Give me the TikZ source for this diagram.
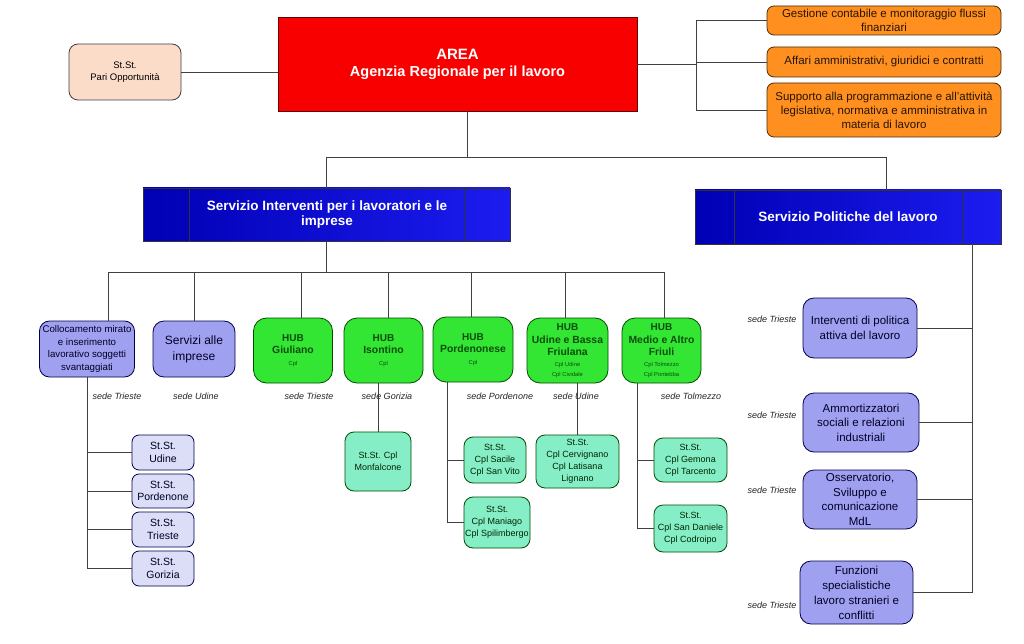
\documentclass[tikz,border=0pt]{standalone}
\usepackage{fontspec}
\setmainfont{Liberation Sans}
\definecolor{cred}{HTML}{F80000}
\definecolor{corange}{HTML}{FF8F1F}
\definecolor{cpeach}{HTML}{FBDCC9}
\definecolor{cblueL}{HTML}{0000B4}
\definecolor{cblueR}{HTML}{1C1CF0}
\definecolor{clav}{HTML}{A0A0F0}
\definecolor{clavlight}{HTML}{DCDEF8}
\definecolor{cgreen}{HTML}{33E633}
\definecolor{cmint}{HTML}{86EEC6}
\definecolor{cline}{HTML}{404040}
\definecolor{cgtext}{HTML}{0B4D0B}
\newcommand\cplf{\mdseries\fontsize{5.8}{5.6}\selectfont}
\newcommand\hubbig{\fontsize{10.4}{12.8}\selectfont}
\begin{document}
\begin{tikzpicture}[x=1pt,y=-1pt,
  conn/.style={draw=cline, line width=0.9pt},
  basebox/.style={draw=black!75, line width=0.8pt, inner sep=0pt, align=center},
  obox/.style={basebox, fill=corange, rounded corners=7pt, draw=black!70!corange, text=black!85!corange, font=\fontsize{11.5}{14}\selectfont},
  pbox/.style={basebox, fill=cpeach, rounded corners=9pt, font=\fontsize{9.5}{12.5}\selectfont},
  bbox/.style={basebox, left color=cblueL, right color=cblueR, draw=black!80, rounded corners=0pt},
  btext/.style={text=white, align=center, font=\bfseries\fontsize{13.5}{15.5}\selectfont},
  lbox/.style={basebox, fill=clav, rounded corners=11pt, draw=black!70!blue, text=black!85!blue, font=\fontsize{11.5}{14.5}\selectfont},
  sbox/.style={basebox, fill=clavlight, rounded corners=7pt, draw=black!70!blue, text=black!85!blue, font=\fontsize{10.5}{12.5}\selectfont},
  hbox/.style={basebox, fill=cgreen, rounded corners=13pt, draw=black!70!green, text=cgtext, font=\bfseries\fontsize{10}{12.8}\selectfont},
  mbox/.style={basebox, fill=cmint, rounded corners=9pt, draw=black!70!green, text=black!85!green, font=\fontsize{9}{12}\selectfont},
  sede/.style={inner sep=0pt, font=\itshape\fontsize{9}{10}\selectfont, text=black!85}
]
\useasboundingbox (0,0) rectangle (1024,644);
\fill[white] (0,0) rectangle (1024,644);

% top level
\node[basebox, fill=cred, draw=black!60!red, minimum width=359pt, minimum height=94pt, text=white, font=\bfseries\fontsize{14.5}{17}\selectfont] (area) at (457.5,64) {{\fontsize{15}{17}\selectfont AREA}\\Agenzia Regionale per il lavoro};
\node[pbox, minimum width=112pt, minimum height=56pt] (pari) at (125,72) {St.St.\\Pari Opportunità};

\node[obox, minimum width=234pt, minimum height=29pt] (g1) at (884,20.5) {Gestione contabile e monitoraggio flussi\\finanziari};
\node[obox, minimum width=234pt, minimum height=30pt] (g2) at (884,62) {Affari amministrativi, giuridici e contratti};
\node[obox, minimum width=234pt, minimum height=54pt] (g3) at (884,110) {Supporto alla programmazione e all'attività\\legislativa, normativa e amministrativa in\\materia di lavoro};

\draw[conn] (pari.east) -- (pari.east -| area.west);
\coordinate (rj) at (696,64);
\draw[conn] (area.east) -- (rj);
\draw[conn] (g1.west) -| (rj);
\draw[conn] (g3.west) -| (rj);
\draw[conn] (g2.west) -- (g2.west -| rj);

% services
\node[bbox, minimum width=367pt, minimum height=53pt] (sint) at (326.5,214.5) {};
\node[bbox, minimum width=306pt, minimum height=54pt] (spol) at (848,217) {};
\draw[black!80, line width=0.7pt] (189,188) -- (189,241) (465,188) -- (465,241);
\draw[black!80, line width=0.7pt] (734,190) -- (734,244) (963,190) -- (963,244);
\node[btext] (sinttxt) at (327,214.5) {Servizio Interventi per i lavoratori e le\\imprese};
\node[btext] (spoltxt) at (848,217) {Servizio Politiche del lavoro};

\coordinate (j1) at (467,157);
\coordinate (spolin) at (886,190);
\draw[conn] (area.south -| j1) -- (j1);
\draw[conn] (sint.north) |- (j1);
\draw[conn] (j1) -| (spolin);

% second level nodes
\node[lbox, minimum width=95pt, minimum height=56pt, rounded corners=10pt, font=\fontsize{9.7}{12.6}\selectfont] (coll) at (87,349) {Collocamento mirato\\e inserimento\\lavorativo soggetti\\svantaggiati};
\node[lbox, minimum width=82pt, minimum height=56pt, font=\fontsize{12}{16}\selectfont] (serv) at (194,349) {Servizi alle\\imprese};
\node[hbox, minimum width=79pt, minimum height=65pt] (hgiu) at (293,350.5) {HUB\\{\hubbig Giuliano}\\[-1pt]{\cplf Cpl}};
\node[hbox, minimum width=79pt, minimum height=65pt] (hiso) at (383.5,350.5) {HUB\\{\hubbig Isontino}\\[-1pt]{\cplf Cpl}};
\node[hbox, minimum width=80pt, minimum height=65pt] (hpor) at (473,349.5) {HUB\\{\hubbig Pordenonese}\\[-1pt]{\cplf Cpl}};
\node[hbox, minimum width=81pt, minimum height=65pt] (hudi) at (567.5,350.5) {HUB\\{\hubbig Udine e Bassa}\\{\hubbig Friulana}\\[-2pt]{\cplf Cpl Udine}\\[-3pt]{\cplf Cpl Cividale}};
\node[hbox, minimum width=79pt, minimum height=65pt] (hmed) at (661.5,350.5) {HUB\\{\hubbig Medio e Altro}\\{\hubbig Friuli}\\[-2pt]{\cplf Cpl Tolmezzo}\\[-3pt]{\cplf Cpl Pontebba}};

\coordinate (bus) at (326.5,272);
\coordinate (d1) at (108,272);
\coordinate (d2) at (194,272);
\coordinate (d3) at (301,272);
\coordinate (d4) at (388,272);
\coordinate (d5) at (471,272);
\coordinate (d6) at (565,272);
\coordinate (d7) at (664,272);
\draw[conn] (sint.south) -- (bus);
\draw[conn] (d1) -- (d7);
\draw[conn] (d1) -- (coll.north -| d1);
\draw[conn] (d2) -- (serv.north -| d2);
\draw[conn] (d3) -- (hgiu.north -| d3);
\draw[conn] (d4) -- (hiso.north -| d4);
\draw[conn] (d5) -- (hpor.north -| d5);
\draw[conn] (d6) -- (hudi.north -| d6);
\draw[conn] (d7) -- (hmed.north -| d7);

% Collocamento subtree
\node[sbox, minimum width=62pt, minimum height=35pt] (su) at (163,452.5) {St.St.\\Udine};
\node[sbox, minimum width=62pt, minimum height=34pt] (sp) at (163,491) {St.St.\\Pordenone};
\node[sbox, minimum width=62pt, minimum height=35pt] (st) at (163,529.5) {St.St.\\Trieste};
\node[sbox, minimum width=62pt, minimum height=35pt] (sg) at (163,568.5) {St.St.\\Gorizia};
\draw[conn] (coll.south) |- (sg.west);
\draw[conn] (su.west) -- (su.west -| coll.south);
\draw[conn] (sp.west) -- (sp.west -| coll.south);
\draw[conn] (st.west) -- (st.west -| coll.south);

% HUB subtrees
\node[mbox, minimum width=66pt, minimum height=59pt] (monf) at (378,461.5) {St.St. Cpl\\Monfalcone};
\draw[conn] (hiso.south -| monf.north) -- (monf.north);

\node[mbox, minimum width=62pt, minimum height=46pt] (sac) at (495,460) {St.St.\\Cpl Sacile\\Cpl San Vito};
\node[mbox, minimum width=66pt, minimum height=51pt] (man) at (497,522.5) {St.St.\\Cpl Maniago\\Cpl Spilimbergo};
\coordinate (px) at (447,382);
\draw[conn] (px) |- (man.west);
\draw[conn] (sac.west) -- (sac.west -| px);

\node[mbox, minimum width=83pt, minimum height=53pt] (cerv) at (577.5,461.5) {St.St.\\Cpl Cervignano\\Cpl Latisana\\Lignano};
\draw[conn] (hudi.south -| cerv.north) -- (cerv.north);

\node[mbox, minimum width=73pt, minimum height=44pt] (gem) at (690.5,460) {St.St.\\Cpl Gemona\\Cpl Tarcento};
\node[mbox, minimum width=73pt, minimum height=47pt] (sdan) at (690.5,528.5) {St.St.\\Cpl San Daniele\\Cpl Codroipo};
\coordinate (mx) at (637,383);
\draw[conn] (mx) |- (sdan.west);
\draw[conn] (gem.west) -- (gem.west -| mx);

% right column
\node[lbox, minimum width=114pt, minimum height=60pt] (ipa) at (860,328) {Interventi di politica\\attiva del lavoro};
\node[lbox, minimum width=116pt, minimum height=59pt] (amm) at (861,422.5) {Ammortizzatori\\sociali e relazioni\\industriali};
\node[lbox, minimum width=114pt, minimum height=59pt] (oss) at (860,499.5) {Osservatorio,\\Sviluppo e\\comunicazione\\MdL};
\node[lbox, minimum width=113pt, minimum height=63pt, font=\fontsize{11.5}{15}\selectfont] (fun) at (856.5,592.5) {Funzioni\\specialistiche\\lavoro stranieri e\\conflitti};
\coordinate (rx) at (972,244);
\draw[conn] (rx) |- (fun.east);
\draw[conn] (ipa.east) -- (ipa.east -| rx);
\draw[conn] (amm.east) -- (amm.east -| rx);
\draw[conn] (oss.east) -- (oss.east -| rx);

% sede labels
\node[sede] (l1) at (117,396) {sede Trieste};
\node[sede] (l2) at (196,396) {sede Udine};
\node[sede] (l3) at (309,396) {sede Trieste};
\node[sede] (l4) at (387,396) {sede Gorizia};
\node[sede] (l5) at (500,396) {sede Pordenone};
\node[sede] (l6) at (576,396) {sede Udine};
\node[sede] (l7) at (691,396) {sede Tolmezzo};
\node[sede] (r1) at (772,319) {sede Trieste};
\node[sede] (r2) at (772,415) {sede Trieste};
\node[sede] (r3) at (772,490) {sede Trieste};
\node[sede] (r4) at (772,605) {sede Trieste};
\end{tikzpicture}
\end{document}
